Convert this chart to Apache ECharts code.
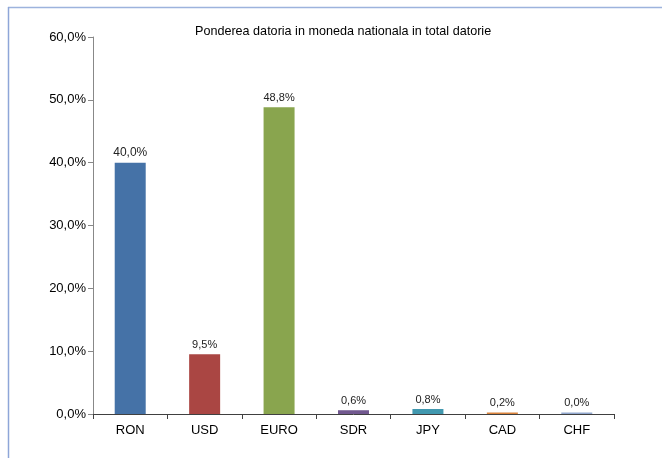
<!DOCTYPE html>
<html>
<head>
<meta charset="utf-8">
<script src="https://cdn.jsdelivr.net/npm/echarts@6/dist/echarts.min.js"></script>
<style>
html,body{margin:0;padding:0;background:#fff;}
#chart{width:662px;height:458px;}
</style>
</head>
<body>
<div id="chart"></div>
<script>
var categories = ['RON', 'USD', 'EURO', 'SDR', 'JPY', 'CAD', 'CHF'];
var values = [40.0, 9.5, 48.8, 0.6, 0.8, 0.2, 0.04];
var labelTexts = ['40,0%', '9,5%', '48,8%', '0,6%', '0,8%', '0,2%', '0,0%'];
var colors = ['#4572A7', '#AA4643', '#89A54E', '#71588F', '#4198AF', '#DB843D', '#93A9CF'];
var yTicks = [0, 10, 20, 30, 40, 50, 60];

var chart = echarts.init(document.getElementById('chart'));
var font = 'Liberation Sans, Arial, sans-serif';
chart.setOption({
  animation: false,
  title: {
    text: 'Ponderea datoria in moneda nationala in total datorie',
    left: 190, top: 20,
    textStyle: {fontFamily: font, fontSize: 12.6, fontWeight: 'normal', color: '#000'}
  },
  grid: {left: 93, right: 48, top: 37, bottom: 44},
  xAxis: {
    type: 'category',
    data: categories,
    axisLine: {lineStyle: {color: '#404040', width: 1}},
    axisTick: {show: true, length: 5, lineStyle: {color: '#404040'}},
    axisLabel: {fontFamily: font, fontSize: 13, color: '#000', margin: 10}
  },
  yAxis: {
    type: 'value', min: 0, max: 60, interval: 10,
    axisLine: {show: true, lineStyle: {color: '#888888', width: 1}},
    axisTick: {show: true, length: 5, lineStyle: {color: '#888888'}},
    splitLine: {show: false},
    axisLabel: {
      fontFamily: font, fontSize: 13, color: '#000', margin: 7,
      formatter: function (v) { return yTicks.indexOf(v) >= 0 ? v.toFixed(1).replace('.', ',') + '%' : ''; }
    }
  },
  series: [{
    type: 'bar',
    barWidth: 31,
    barMinHeight: 1.5,
    data: values.map(function (v, i) {
      return {
        value: v,
        itemStyle: {color: colors[i]},
        label: {fontSize: i === 0 ? 12 : 11}
      };
    }),
    label: {
      show: true, position: 'top', distance: 4,
      fontFamily: font, color: '#222',
      formatter: function (p) { return labelTexts[p.dataIndex]; }
    }
  }],
  graphic: [
    {type: 'line', shape: {x1: 8, y1: 7.5, x2: 662, y2: 7.5}, style: {stroke: '#9DB3DD', lineWidth: 1.5}},
    {type: 'line', shape: {x1: 8.5, y1: 7, x2: 8.5, y2: 458}, style: {stroke: '#8EA6D8', lineWidth: 1.5}}
  ]
});
</script>
</body>
</html>
